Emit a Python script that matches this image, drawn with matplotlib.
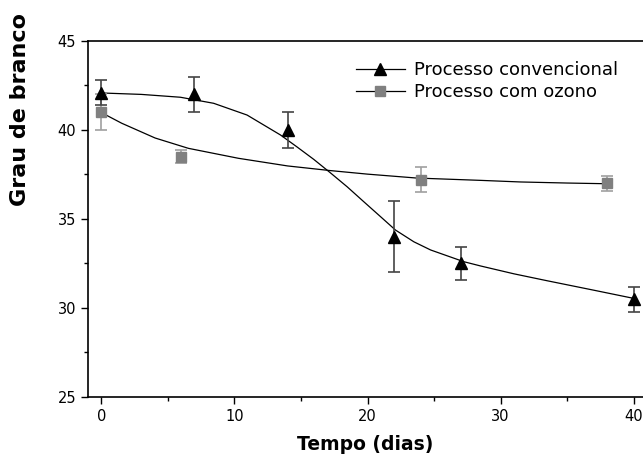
import matplotlib.pyplot as plt
from matplotlib.lines import Line2D
from matplotlib.ticker import MultipleLocator

# dados
dias_conv = [0, 7, 14, 22, 27, 40]
grau_conv = [42.1, 42.0, 40.0, 34.0, 32.5, 30.5]
erro_conv = [0.7, 1.0, 1.0, 2.0, 0.9, 0.7]

dias_ozo = [0, 6, 24, 38]
grau_ozo = [41.0, 38.5, 37.2, 37.0]
erro_ozo = [1.0, 0.38, 0.7, 0.4]

# curvas de ajuste
ajuste_conv_x = [0, 3, 5.94, 8.44, 10.95, 13.46, 14.7, 15.96, 17.2, 18.47, 19.72, 20.98,
                 22.1, 23.48, 24.74, 27.24, 28.5, 31, 33.5, 37, 40]
ajuste_conv_y = [42.08, 42.0, 41.84, 41.5, 40.84, 39.72, 39.05, 38.35, 37.6, 36.81, 35.97,
                 35.13, 34.38, 33.72, 33.26, 32.6, 32.36, 31.92, 31.53, 31.0, 30.54]
ajuste_ozo_x = [0, 1.53, 4.04, 6.54, 10.3, 14, 17.2, 20, 23.7, 28.5, 31.5, 35, 38]
ajuste_ozo_y = [40.98, 40.38, 39.55, 38.97, 38.41, 37.98, 37.72, 37.52, 37.3, 37.17, 37.08,
                37.02, 36.98]

plt.rcParams['font.family'] = ['DejaVu Sans']

fig = plt.figure(figsize=(6.43, 4.55), dpi=100)
ax = fig.add_axes([0.1369, 0.1275, 0.8631, 0.7824])

ax.plot(ajuste_conv_x, ajuste_conv_y, color="black", lw=0.9, zorder=2)
ax.plot(ajuste_ozo_x, ajuste_ozo_y, color="black", lw=0.9, zorder=2)

ax.errorbar(dias_ozo, grau_ozo, yerr=erro_ozo, fmt="s", color="#808080", ms=6.5,
            ecolor="#a0a0a0", elinewidth=1.2, capsize=4, capthick=1.2, zorder=3)
ax.errorbar(dias_conv, grau_conv, yerr=erro_conv, fmt="^", color="black", ms=8,
            ecolor="#444444", elinewidth=1.2, capsize=4, capthick=1.2, zorder=4)

ax.set_xlim(-1, 40.7)
ax.set_ylim(25, 45)
ax.xaxis.set_major_locator(MultipleLocator(10))
ax.xaxis.set_minor_locator(MultipleLocator(5))
ax.yaxis.set_major_locator(MultipleLocator(5))
ax.yaxis.set_minor_locator(MultipleLocator(2.5))
ax.tick_params(which="major", direction="out", length=5, width=1, labelsize=10.5)
ax.tick_params(which="minor", direction="out", length=3, width=1)
ax.spines["right"].set_visible(False)
for s in ["left", "bottom", "top"]:
    ax.spines[s].set_linewidth(1.2)

ax.set_xlabel("Tempo (dias)", fontsize=13.5, fontweight="bold", labelpad=8)
fig.text(20 / 643, 1 - 110 / 455, "Grau de branco", rotation=90, fontsize=16,
         fontweight="bold", ha="center", va="center")

h1 = Line2D([], [], color="black", lw=0.9, marker="^", ms=8, mfc="black", mec="black")
h2 = Line2D([], [], color="black", lw=0.9, marker="s", ms=6.5, mfc="#808080", mec="#808080")
ax.legend([h1, h2], ["Processo convencional", "Processo com ozono"], loc="upper left",
          bbox_to_anchor=(0.47, 0.963), frameon=False, fontsize=13, numpoints=1,
          handlelength=2.7, handletextpad=0.5, labelspacing=0.2, borderaxespad=0)

fig.savefig("out.png", dpi=100)
